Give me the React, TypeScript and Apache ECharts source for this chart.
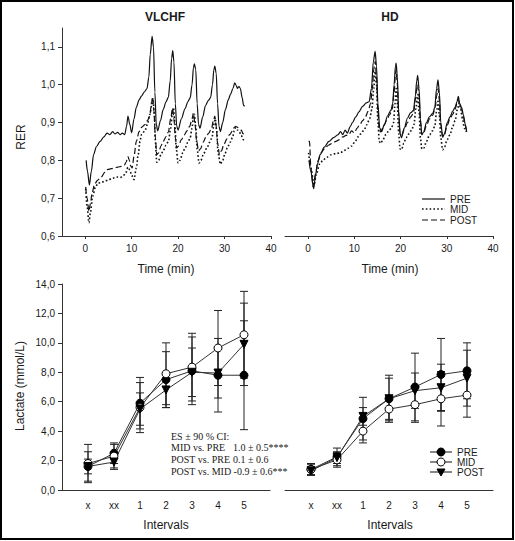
import React, { useEffect, useRef } from "react";
import * as echarts from "echarts";

// ---------- tick labels / categories ----------
const rerTicks = [0.6, 0.7, 0.8, 0.9, 1.0, 1.1];
const timeTicks = [0, 10, 20, 30, 40];
const intervalLabels = ["x", "xx", "1", "2", "3", "4", "5"];
const intervalIdx = [0, 1, 2, 3, 4, 5, 6];
const lactateTicks = [0, 2, 4, 6, 8, 10, 12, 14];

// ---------- RER time series [time (min), RER] ----------
const vlchfPre: [number, number][] = [
  [0.2, 0.8], [0.5, 0.77], [0.9, 0.735], [1.3, 0.77], [1.8, 0.815], [2.4, 0.836], [3.2, 0.85], [4.0, 0.862],
  [4.7, 0.872], [5.3, 0.868], [5.9, 0.876], [6.4, 0.87], [7.0, 0.874], [7.5, 0.868], [8.0, 0.872], [8.5, 0.868],
  [8.9, 0.89], [9.2, 0.917], [9.6, 0.895], [10.0, 0.873], [10.5, 0.91], [11.0, 0.94], [11.6, 0.96], [12.1, 0.97],
  [12.8, 0.982], [13.3, 0.99], [13.7, 1.02], [14.0, 1.08], [14.4, 1.128], [14.7, 1.1], [15.0, 0.98], [15.3, 0.895],
  [15.6, 0.878], [16.2, 0.905], [16.8, 0.935], [17.4, 0.955], [17.9, 0.967], [18.3, 1.01], [18.6, 1.07], [18.85, 1.09],
  [19.1, 1.06], [19.4, 0.95], [19.7, 0.89], [20.0, 0.88], [20.7, 0.91], [21.5, 0.937], [22.1, 0.955], [22.6, 0.965],
  [23.0, 1.0], [23.3, 1.045], [23.5, 1.055], [23.8, 1.04], [24.1, 0.95], [24.4, 0.895], [24.7, 0.885], [25.3, 0.915],
  [25.9, 0.945], [26.5, 0.958], [27.0, 0.966], [27.4, 1.0], [27.7, 1.04], [27.9, 1.049], [28.2, 1.03], [28.5, 0.95],
  [28.8, 0.89], [29.1, 0.876], [29.6, 0.9], [30.2, 0.935], [30.8, 0.96], [31.3, 0.975], [31.8, 0.99], [32.2, 1.005],
  [32.5, 0.998], [32.8, 0.99], [33.1, 0.996], [33.4, 0.99], [33.8, 0.965], [34.1, 0.945], [34.4, 0.944],
];
const vlchfMid: [number, number][] = [
  [0.1, 0.725], [0.4, 0.68], [0.8, 0.635], [1.1, 0.66], [1.6, 0.705], [2.2, 0.73], [2.8, 0.74], [3.5, 0.742],
  [4.2, 0.745], [5.0, 0.748], [5.7, 0.752], [6.3, 0.754], [7.0, 0.756], [7.6, 0.755], [8.2, 0.76], [8.7, 0.765],
  [9.2, 0.782], [9.6, 0.775], [10.0, 0.76], [10.5, 0.749], [11.0, 0.78], [11.4, 0.815], [11.8, 0.85], [12.1, 0.868],
  [12.8, 0.877], [13.4, 0.895], [13.9, 0.921], [14.3, 0.945], [14.6, 0.958], [14.9, 0.92], [15.1, 0.85], [15.4, 0.795],
  [15.8, 0.8], [16.3, 0.815], [16.8, 0.826], [17.4, 0.84], [17.9, 0.85], [18.4, 0.885], [18.8, 0.93], [19.0, 0.94],
  [19.3, 0.9], [19.6, 0.83], [20.0, 0.793], [20.4, 0.8], [21.0, 0.82], [21.5, 0.833], [22.1, 0.848], [22.6, 0.86],
  [23.0, 0.885], [23.3, 0.915], [23.5, 0.922], [23.8, 0.89], [24.1, 0.83], [24.5, 0.793], [24.9, 0.8], [25.5, 0.818],
  [26.2, 0.833], [26.8, 0.848], [27.3, 0.86], [27.7, 0.895], [28.0, 0.91], [28.3, 0.88], [28.6, 0.82], [29.1, 0.79],
  [29.6, 0.8], [30.1, 0.818], [30.6, 0.833], [31.2, 0.848], [31.7, 0.86], [32.1, 0.878], [32.4, 0.887], [32.8, 0.88],
  [33.2, 0.875], [33.6, 0.866], [34.0, 0.855], [34.3, 0.85],
];
const vlchfPost: [number, number][] = [
  [0.1, 0.73], [0.4, 0.7], [0.8, 0.665], [1.1, 0.685], [1.5, 0.715], [2.0, 0.737], [2.7, 0.748], [3.4, 0.755],
  [4.2, 0.768], [4.9, 0.776], [5.6, 0.778], [6.3, 0.78], [7.0, 0.782], [7.8, 0.784], [8.4, 0.787], [8.8, 0.795],
  [9.2, 0.81], [9.5, 0.8], [9.8, 0.785], [10.1, 0.78], [10.5, 0.81], [11.0, 0.85], [11.6, 0.876], [12.2, 0.888],
  [12.8, 0.894], [13.4, 0.905], [13.9, 0.918], [14.3, 0.955], [14.5, 0.968], [14.8, 0.93], [15.1, 0.86], [15.4, 0.815],
  [15.8, 0.82], [16.3, 0.838], [16.8, 0.85], [17.4, 0.863], [17.9, 0.875], [18.4, 0.91], [18.8, 0.938], [19.1, 0.91],
  [19.4, 0.86], [19.7, 0.833], [20.1, 0.838], [20.7, 0.855], [21.3, 0.867], [21.9, 0.878], [22.5, 0.89], [23.0, 0.91],
  [23.3, 0.925], [23.6, 0.9], [24.0, 0.85], [24.4, 0.825], [24.8, 0.83], [25.4, 0.848], [26.0, 0.862], [26.6, 0.872],
  [27.2, 0.885], [27.6, 0.905], [27.9, 0.917], [28.2, 0.89], [28.5, 0.845], [28.9, 0.815], [29.3, 0.825], [29.9, 0.843],
  [30.5, 0.857], [31.1, 0.868], [31.7, 0.878], [32.1, 0.887], [32.4, 0.89], [32.8, 0.887], [33.2, 0.884], [33.6, 0.88],
  [34.0, 0.87], [34.3, 0.876],
];
const hdPre: [number, number][] = [
  [0.2, 0.8], [0.6, 0.77], [1.2, 0.725], [1.6, 0.76], [2.0, 0.79], [2.6, 0.815], [3.5, 0.835], [4.5, 0.85],
  [5.5, 0.86], [6.5, 0.868], [7.0, 0.876], [7.5, 0.868], [8.0, 0.88], [8.5, 0.872], [9.1, 0.889], [9.6, 0.9],
  [10.3, 0.915], [11.0, 0.928], [11.8, 0.943], [12.6, 0.952], [13.2, 0.955], [13.7, 0.99], [14.1, 1.06], [14.5, 1.088],
  [14.8, 1.05], [15.1, 0.95], [15.5, 0.885], [15.9, 0.876], [16.5, 0.895], [17.2, 0.918], [17.9, 0.932], [18.3, 0.95],
  [18.6, 1.0], [18.9, 1.05], [19.05, 1.057], [19.3, 1.02], [19.6, 0.93], [19.9, 0.87], [20.2, 0.86], [20.8, 0.885],
  [21.5, 0.912], [22.2, 0.926], [22.8, 0.932], [23.2, 0.97], [23.5, 1.01], [23.7, 1.025], [24.0, 0.99], [24.3, 0.91],
  [24.6, 0.868], [25.0, 0.875], [25.6, 0.9], [26.3, 0.916], [27.0, 0.925], [27.4, 0.94], [27.8, 0.99], [28.1, 1.013],
  [28.4, 0.98], [28.7, 0.9], [29.1, 0.862], [29.5, 0.87], [30.1, 0.9], [30.7, 0.915], [31.3, 0.93], [31.8, 0.94],
  [32.2, 0.955], [32.5, 0.969], [32.8, 0.95], [33.2, 0.94], [33.6, 0.92], [34.0, 0.895], [34.3, 0.875],
];
const hdMid: [number, number][] = [
  [0.1, 0.82], [0.6, 0.78], [1.3, 0.735], [1.8, 0.765], [2.5, 0.79], [3.2, 0.8], [4.0, 0.808], [5.0, 0.815],
  [6.0, 0.818], [7.0, 0.82], [7.8, 0.826], [8.6, 0.832], [9.4, 0.838], [10.2, 0.85], [10.8, 0.862], [11.4, 0.87],
  [12.1, 0.88], [12.7, 0.894], [13.3, 0.91], [13.8, 0.935], [14.2, 0.99], [14.5, 1.035], [14.8, 1.0], [15.1, 0.9],
  [15.4, 0.85], [15.7, 0.845], [16.2, 0.855], [16.8, 0.868], [17.4, 0.877], [18.0, 0.885], [18.5, 0.9], [18.8, 0.95],
  [19.05, 0.99], [19.3, 0.95], [19.6, 0.87], [19.9, 0.83], [20.2, 0.828], [20.7, 0.845], [21.2, 0.86], [21.8, 0.87],
  [22.4, 0.88], [22.9, 0.895], [23.3, 0.935], [23.7, 0.974], [24.0, 0.93], [24.3, 0.86], [24.6, 0.83], [25.0, 0.832],
  [25.6, 0.85], [26.3, 0.868], [26.9, 0.878], [27.4, 0.89], [27.8, 0.93], [28.1, 0.956], [28.4, 0.92], [28.7, 0.86],
  [29.1, 0.828], [29.5, 0.835], [30.1, 0.855], [30.7, 0.868], [31.3, 0.89], [31.8, 0.905], [32.3, 0.935], [32.7, 0.952],
  [33.0, 0.935], [33.4, 0.91], [33.8, 0.885], [34.2, 0.875],
];
const hdPost: [number, number][] = [
  [0.1, 0.85], [0.3, 0.85], [0.6, 0.78], [1.1, 0.73], [1.6, 0.765], [2.2, 0.8], [2.8, 0.82], [3.6, 0.832],
  [4.4, 0.84], [5.2, 0.845], [6.0, 0.85], [6.8, 0.855], [7.5, 0.862], [8.2, 0.866], [8.8, 0.868], [9.4, 0.878],
  [10.0, 0.873], [10.6, 0.885], [11.2, 0.895], [11.8, 0.905], [12.4, 0.915], [13.0, 0.93], [13.5, 0.95], [13.9, 0.99],
  [14.2, 1.04], [14.5, 1.062], [14.8, 1.02], [15.1, 0.93], [15.4, 0.88], [15.7, 0.875], [16.3, 0.89], [17.0, 0.905],
  [17.6, 0.92], [18.2, 0.935], [18.6, 0.98], [18.9, 1.03], [19.05, 1.04], [19.3, 1.0], [19.6, 0.92], [19.9, 0.87],
  [20.2, 0.865], [20.8, 0.882], [21.5, 0.9], [22.2, 0.915], [22.8, 0.925], [23.2, 0.96], [23.5, 0.99], [23.7, 1.0],
  [24.0, 0.97], [24.3, 0.9], [24.6, 0.868], [25.0, 0.872], [25.6, 0.893], [26.3, 0.91], [27.0, 0.92], [27.5, 0.94],
  [27.8, 0.97], [28.1, 0.99], [28.4, 0.96], [28.7, 0.895], [29.1, 0.862], [29.5, 0.868], [30.1, 0.893], [30.7, 0.91],
  [31.3, 0.922], [31.8, 0.935], [32.2, 0.95], [32.5, 0.96], [32.8, 0.945], [33.2, 0.935], [33.6, 0.915], [34.0, 0.892],
  [34.3, 0.878],
];

// ---------- Lactate (mmol/L): means and SD per interval ----------
const lacVlchfPre = [1.6, 2.5, 5.9, 7.5, 8.1, 7.8, 7.8];
const lacVlchfPreSd = [1.0, 0.7, 1.75, 1.9, 2.3, 2.5, 3.7];
const lacVlchfMid = [1.8, 2.3, 5.6, 7.9, 8.35, 9.65, 10.55];
const lacVlchfMidSd = [1.3, 0.8, 1.7, 2.1, 2.3, 2.55, 2.95];
const lacVlchfPost = [1.6, 1.9, 5.5, 6.8, 8.0, 7.95, 9.9];
const lacVlchfPostSd = [0.5, 0.5, 1.1, 1.2, 1.65, 1.7, 2.8];

const lacHdPre = [1.4, 2.25, 4.85, 6.2, 7.0, 7.85, 8.1];
const lacHdPreSd = [0.4, 0.6, 1.45, 1.6, 2.3, 2.45, 1.9];
const lacHdMid = [1.4, 2.05, 4.0, 5.5, 5.8, 6.2, 6.45];
const lacHdMidSd = [0.35, 0.5, 0.8, 0.8, 1.2, 1.85, 1.5];
const lacHdPost = [1.3, 2.2, 5.0, 6.2, 6.75, 6.95, 7.6];
const lacHdPostSd = [0.3, 0.4, 0.6, 1.4, 1.2, 1.6, 1.9];

const esLines = ["ES ± 90 % CI:", "MID vs. PRE", "POST vs. PRE", "POST vs. MID -0.9 ± 0.6***"];
const esValues = ["1.0 ± 0.5****", "0.1 ± 0.6"];

const SANS = "'Liberation Sans', Arial, sans-serif";
const SERIF = "'Liberation Serif', 'Times New Roman', serif";
const INK = "#1a1a1a";
const fmt1 = (v: number) => v.toFixed(1).replace(".", ",");

function buildOption() {
  const axisLine = { show: true, onZero: false, lineStyle: { color: "#333", width: 1 } };
  const labelBase = { fontSize: 10, color: INK, fontFamily: SANS };

  const timeX = (gi: number) => ({
    type: "value", gridIndex: gi, min: -5, max: 40,
    axisLine,
    axisTick: { show: true, length: 3, customValues: timeTicks, lineStyle: { color: "#333" } },
    axisLabel: { ...labelBase, margin: 7, customValues: timeTicks },
    splitLine: { show: false },
  });
  const intX = (gi: number) => ({
    type: "value", gridIndex: gi, min: -1, max: 7,
    axisLine,
    axisTick: { show: false },
    axisLabel: {
      ...labelBase, margin: 10, customValues: intervalIdx,
      formatter: (v: number) => intervalLabels[Math.round(v)] ?? "",
    },
    splitLine: { show: false },
  });
  const rerY = (gi: number, show: boolean) => ({
    type: "value", gridIndex: gi, min: 0.6, max: 1.15, show,
    axisLine,
    axisTick: { show: true, length: 4, customValues: rerTicks, lineStyle: { color: "#333" } },
    axisLabel: { ...labelBase, margin: 7, customValues: rerTicks, formatter: (v: number) => fmt1(v) },
    splitLine: { show: false },
  });
  const lacY = (gi: number, show: boolean) => ({
    type: "value", gridIndex: gi, min: 0, max: 14, show,
    axisLine,
    axisTick: { show: true, length: 4, customValues: lactateTicks, lineStyle: { color: "#333" } },
    axisLabel: { ...labelBase, margin: 7, customValues: lactateTicks, formatter: (v: number) => fmt1(v) },
    splitLine: { show: false },
  });

  const rerLine = (name: string, data: [number, number][], idx: number, kind: string) => ({
    name, type: "line", xAxisIndex: idx, yAxisIndex: idx, data,
    showSymbol: false, symbol: "none", smooth: 0.3, smoothMonotone: "x", silent: true,
    lineStyle: {
      color: "#111",
      width: kind === "dotted" ? 1.6 : 1.2,
      type: kind === "solid" ? "solid" : kind === "dotted" ? [1.6, 2.2] : [6, 3],
    },
  });

  const lacLine = (name: string, vals: number[], idx: number, symbol: string) => ({
    name, type: "line", xAxisIndex: idx, yAxisIndex: idx,
    data: vals.map((v, i) => [i, v]),
    symbol: symbol === "tri" ? "triangle" : "circle",
    symbolRotate: symbol === "tri" ? 180 : 0,
    symbolSize: 8,
    showSymbol: true, silent: true, z: 5,
    lineStyle: { color: "#333", width: 1 },
    itemStyle: symbol === "open"
      ? { color: "#fff", borderColor: "#000", borderWidth: 1 }
      : { color: "#000", borderColor: "#000", borderWidth: 1 },
  });

  const errBars = (idx: number, groups: [number[], number[]][]) => {
    const data: number[][] = [];
    groups.forEach(([m, s]) => m.forEach((v, i) => data.push([i, v - s[i], v + s[i]])));
    return {
      type: "custom", xAxisIndex: idx, yAxisIndex: idx, silent: true, z: 3,
      encode: { x: 0, y: [1, 2] },
      data,
      renderItem: (_p: any, api: any) => {
        const x = api.value(0), lo = api.value(1), hi = api.value(2);
        const a = api.coord([x, lo]);
        const b = api.coord([x, hi]);
        const hw = 4;
        const st = { stroke: "#222", lineWidth: 1 };
        return {
          type: "group",
          children: [
            { type: "line", shape: { x1: a[0], y1: a[1], x2: b[0], y2: b[1] }, style: st },
            { type: "line", shape: { x1: a[0] - hw, y1: a[1], x2: a[0] + hw, y2: a[1] }, style: st },
            { type: "line", shape: { x1: b[0] - hw, y1: b[1], x2: b[0] + hw, y2: b[1] }, style: st },
          ],
        };
      },
    };
  };

  const txt = (text: string, x: number, y: number, extra: any = {}, rot = 0) => ({
    type: "text", x, y, rotation: rot, silent: true,
    style: {
      text, fill: INK, fontSize: 12, fontFamily: SANS,
      align: "center", verticalAlign: "middle", textAlign: "center", textVerticalAlign: "middle",
      ...extra,
    },
  });
  const left = { align: "left", textAlign: "left" };

  const lg = (x1: number, x2: number, y: number, dash: any, w = 1.2) => ({
    type: "line", silent: true,
    shape: { x1, y1: y, x2, y2: y },
    style: { stroke: "#111", lineWidth: w, lineDash: dash },
  });

  const graphic: any[] = [
    { type: "rect", shape: { x: 1, y: 1, width: 512, height: 538 }, style: { fill: "none", stroke: "#000", lineWidth: 2 }, silent: true },
    txt("VLCHF", 165, 17, { fontWeight: "bold" }),
    txt("HD", 390, 17, { fontWeight: "bold" }),
    txt("Time (min)", 166, 269),
    txt("Time (min)", 390, 269),
    txt("Intervals", 166, 525),
    txt("Intervals", 390, 525),
    txt("RER", 21, 137, {}, Math.PI / 2),
    txt("Lactate (mmol/L)", 20, 386, {}, Math.PI / 2),
    // top legend
    lg(422, 445, 199, null),
    lg(422, 445, 209, [1.6, 2.2], 1.6),
    lg(422, 445, 220, [6, 3]),
    txt("PRE", 450, 199, { fontSize: 10, ...left }),
    txt("MID", 450, 209, { fontSize: 10, ...left }),
    txt("POST", 450, 220, { fontSize: 10, ...left }),
    // bottom legend
    lg(430, 452, 452, null, 1),
    lg(430, 452, 462, null, 1),
    lg(430, 452, 472, null, 1),
    { type: "circle", silent: true, shape: { cx: 441, cy: 452, r: 4 }, style: { fill: "#000", stroke: "#000" } },
    { type: "circle", silent: true, shape: { cx: 441, cy: 462, r: 4 }, style: { fill: "#fff", stroke: "#000", lineWidth: 1 } },
    { type: "polygon", silent: true, shape: { points: [[437, 469], [445, 469], [441, 476]] }, style: { fill: "#000", stroke: "#000" } },
    txt("PRE", 457, 452, { fontSize: 10, ...left }),
    txt("MID", 457, 462, { fontSize: 10, ...left }),
    txt("POST", 457, 472, { fontSize: 10, ...left }),
    // effect-size annotation
    txt(esLines[0], 171, 436, { fontSize: 10, fontFamily: SERIF, ...left }),
    txt(esLines[1], 171, 447.5, { fontSize: 10, fontFamily: SERIF, ...left }),
    txt(esValues[0], 233, 447.5, { fontSize: 10, fontFamily: SERIF, ...left }),
    txt(esLines[2], 171, 459.5, { fontSize: 10, fontFamily: SERIF, ...left }),
    txt(esValues[1], 233, 459.5, { fontSize: 10, fontFamily: SERIF, ...left }),
    txt(esLines[3], 171, 471, { fontSize: 10, fontFamily: SERIF, ...left }),
  ];

  return {
    animation: false,
    backgroundColor: "#fff",
    grid: [
      { left: 62, top: 28, width: 209, height: 208 },
      { left: 285, top: 28, width: 208, height: 208 },
      { left: 62, top: 284, width: 208, height: 206 },
      { left: 285, top: 284, width: 208, height: 206 },
    ],
    xAxis: [timeX(0), timeX(1), intX(2), intX(3)],
    yAxis: [rerY(0, true), rerY(1, false), lacY(2, true), lacY(3, false)],
    series: [
      rerLine("PRE", vlchfPre, 0, "solid"),
      rerLine("MID", vlchfMid, 0, "dotted"),
      rerLine("POST", vlchfPost, 0, "dashed"),
      rerLine("PRE", hdPre, 1, "solid"),
      rerLine("MID", hdMid, 1, "dotted"),
      rerLine("POST", hdPost, 1, "dashed"),
      errBars(2, [[lacVlchfPre, lacVlchfPreSd], [lacVlchfMid, lacVlchfMidSd], [lacVlchfPost, lacVlchfPostSd]]),
      errBars(3, [[lacHdPre, lacHdPreSd], [lacHdMid, lacHdMidSd], [lacHdPost, lacHdPostSd]]),
      lacLine("PRE", lacVlchfPre, 2, "filled"),
      lacLine("MID", lacVlchfMid, 2, "open"),
      lacLine("POST", lacVlchfPost, 2, "tri"),
      lacLine("PRE", lacHdPre, 3, "filled"),
      lacLine("MID", lacHdMid, 3, "open"),
      lacLine("POST", lacHdPost, 3, "tri"),
    ],
    graphic,
  };
}

export default function App() {
  const ref = useRef<HTMLDivElement>(null);
  useEffect(() => {
    if (!ref.current) return;
    const chart = echarts.init(ref.current, null, { renderer: "svg" });
    chart.setOption(buildOption() as any);
    return () => chart.dispose();
  }, []);
  return (
    <div
      ref={ref}
      style={{ position: "absolute", left: 0, top: 0, width: 515, height: 541, background: "#fff" }}
    />
  );
}
